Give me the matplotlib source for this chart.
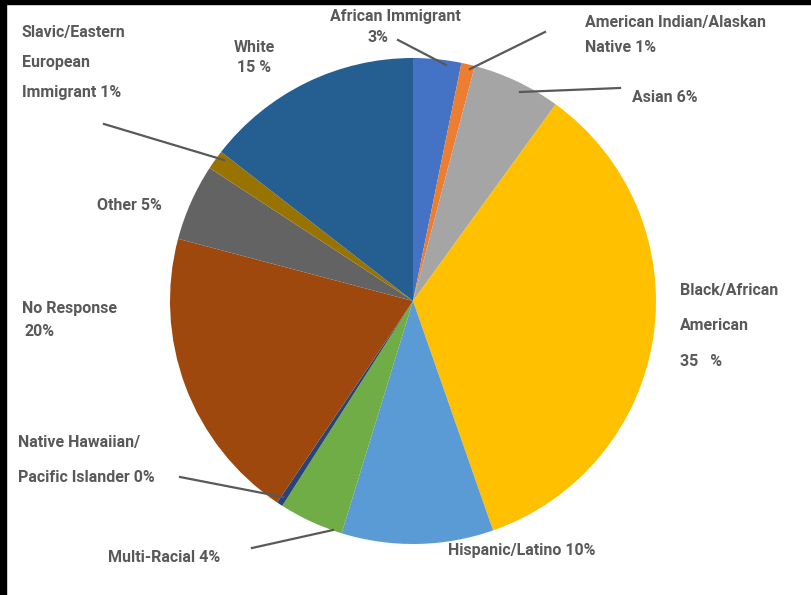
import matplotlib.pyplot as plt
from matplotlib.patches import Rectangle

# Данные
groups = ['African Immigrant', 'American Indian/Alaskan Native', 'Asian',
          'Black/African American', 'Hispanic/Latino', 'Multi-Racial',
          'Native Hawaiian/Pacific Islander', 'No Response', 'Other',
          'Slavic/Eastern European Immigrant', 'White']
shares = [3.2, 0.9, 5.9, 34.7, 10.1, 4.3, 0.4, 19.7, 5.1, 1.3, 14.5]
colors = ['#4472C4', '#ED7D31', '#A5A5A5', '#FFC000', '#5B9BD5', '#70AD47',
          '#264478', '#9E480E', '#636363', '#997300', '#255E91']

W, H = 812, 595
fig = plt.figure(figsize=(W / 100, H / 100), dpi=100)
ax = fig.add_axes([0, 0, 1, 1])

cx, cy, r = 413, H - 301, 243
ax.pie(shares, colors=colors, startangle=90, counterclock=False,
       center=(cx, cy), radius=r,
       wedgeprops=dict(linewidth=0))
ax.set_xlim(0, W)
ax.set_ylim(0, H)
ax.set_aspect('auto')
ax.axis('off')

txt = '#595959'
font = ['Roboto', 'DejaVu Sans']


def label(x, y, s, ha='left'):
    ax.text(x, H - y, s, ha=ha, va='center', color=txt, fontsize=11.5,
            fontweight='bold', family=font)


def leader(x0, y0, x1, y1):
    ax.plot([x0, x1], [H - y0, H - y1], color=txt, lw=1.6)


# Подписи
label(395, 17, 'African Immigrant', ha='center')
label(378, 37, '3%', ha='center')
leader(398, 40, 446, 65)

label(585, 22, 'American Indian/Alaskan')
label(585, 47, 'Native 1%')
leader(470, 69, 545, 32)

label(632, 97, 'Asian 6%')
leader(520, 92, 620, 88)

label(680, 290, 'Black/African')
label(680, 326, 'American')
label(680, 362, '35   %')

label(448, 551, 'Hispanic/Latino 10%')

label(108, 557, 'Multi-Racial 4%')
leader(252, 548, 333, 530)

label(18, 443, 'Native Hawaiian/')
label(18, 477, 'Pacific Islander 0%')
leader(180, 477, 283, 497)

label(22, 309, 'No Response')
label(25, 332, '20%')

label(97, 206, 'Other 5%')

label(22, 32, 'Slavic/Eastern')
label(22, 62, 'European')
label(22, 93, 'Immigrant 1%')
leader(104, 124, 224, 160)

label(254, 47, 'White', ha='center')
label(254, 68, '15 %', ha='center')

# Черная рамка сверху и слева
fig.patches.append(Rectangle((0, 1 - 4 / H), 1, 4 / H, transform=fig.transFigure,
                             color='black', zorder=10))
fig.patches.append(Rectangle((0, 0), 6 / W, 1, transform=fig.transFigure,
                             color='black', zorder=10))

fig.savefig('out.png', dpi=100)
